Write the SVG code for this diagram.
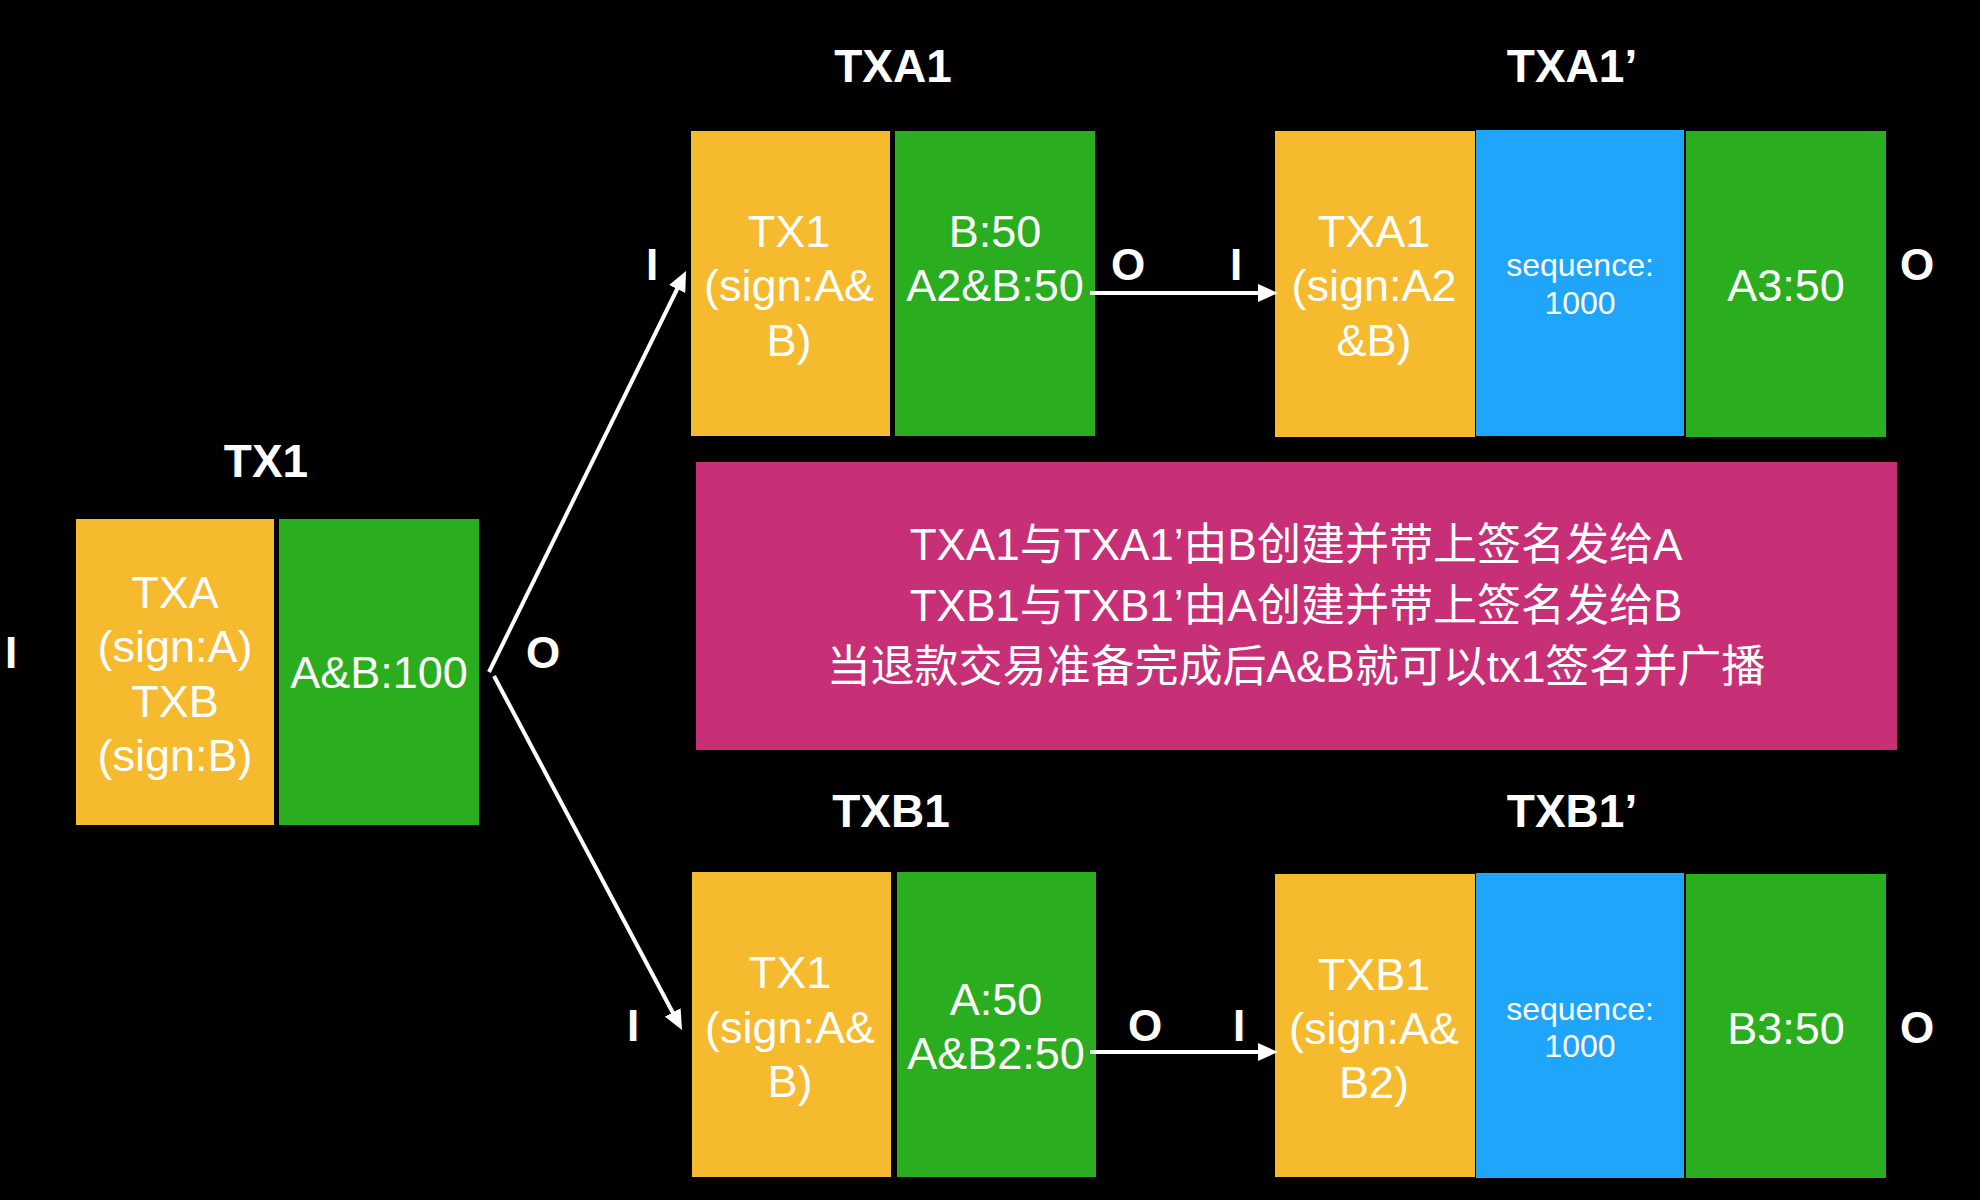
<svg xmlns="http://www.w3.org/2000/svg" width="1980" height="1200" viewBox="0 0 1980 1200">
<defs>
<style>
.bg{fill:#000}
.y{fill:#F6BA2E}
.g{fill:#2BAD20}
.b{fill:#1FA6FB}
.m{fill:#C72F77}
text{font-family:"Liberation Sans","Noto Sans CJK SC",Arial,sans-serif;fill:#fff;text-anchor:middle}
.t{font-size:45px}
.s{font-size:32px}
.h{font-size:46px;font-weight:bold}
.io{font-size:44px;font-weight:bold}
.c{font-size:44px}
.conn{stroke:#fff;stroke-width:4;fill:none}
</style>
<marker id="ah" markerUnits="userSpaceOnUse" markerWidth="20" markerHeight="18" viewBox="0 0 20 18" refX="5" refY="9" orient="auto">
<path d="M0,0 L20,9 L0,18 z" fill="#fff"/>
</marker>
</defs>
<rect class="bg" x="0" y="0" width="1980" height="1200"/>

<g id="tx1">
<text class="h" x="266" y="477">TX1</text>
<rect class="y" x="76" y="519" width="198" height="306"/>
<rect class="g" x="279" y="519" width="200" height="306"/>
<text class="t" x="175" y="608">TXA</text>
<text class="t" x="175" y="662">(sign:A)</text>
<text class="t" x="175" y="717">TXB</text>
<text class="t" x="175" y="771">(sign:B)</text>
<text class="t" x="379" y="688">A&amp;B:100</text>
<text class="io" x="11" y="668">I</text>
<text class="io" x="543" y="668">O</text>
</g>

<g id="txa1">
<text class="h" x="893" y="82">TXA1</text>
<rect class="y" x="691" y="131" width="199" height="305"/>
<rect class="g" x="895" y="131" width="200" height="305"/>
<text class="t" x="789" y="247">TX1</text>
<text class="t" x="789" y="301">(sign:A&amp;</text>
<text class="t" x="789" y="356">B)</text>
<text class="t" x="995" y="247">B:50</text>
<text class="t" x="995" y="301">A2&amp;B:50</text>
<text class="io" x="652" y="280">I</text>
<text class="io" x="1128" y="280">O</text>
</g>

<g id="txa1p">
<text class="h" x="1572" y="82">TXA1’</text>
<rect class="y" x="1275" y="131" width="200" height="306"/>
<rect class="b" x="1476" y="130" width="208" height="306"/>
<rect class="g" x="1686" y="131" width="200" height="306"/>
<text class="t" x="1374" y="247">TXA1</text>
<text class="t" x="1374" y="301">(sign:A2</text>
<text class="t" x="1374" y="356">&amp;B)</text>
<text class="s" x="1580" y="276">sequence:</text>
<text class="s" x="1580" y="314">1000</text>
<text class="t" x="1786" y="301">A3:50</text>
<text class="io" x="1236" y="280">I</text>
<text class="io" x="1917" y="280">O</text>
</g>

<g id="note">
<rect class="m" x="696" y="462" width="1201" height="288"/>
<text class="c" x="1296" y="560">TXA1与TXA1’由B创建并带上签名发给A</text>
<text class="c" x="1296" y="621">TXB1与TXB1’由A创建并带上签名发给B</text>
<text class="c" x="1296" y="682">当退款交易准备完成后A&amp;B就可以tx1签名并广播</text>
</g>

<g id="txb1">
<text class="h" x="891" y="827">TXB1</text>
<rect class="y" x="692" y="872" width="199" height="305"/>
<rect class="g" x="897" y="872" width="199" height="305"/>
<text class="t" x="790" y="988">TX1</text>
<text class="t" x="790" y="1043">(sign:A&amp;</text>
<text class="t" x="790" y="1097">B)</text>
<text class="t" x="996" y="1015">A:50</text>
<text class="t" x="996" y="1069">A&amp;B2:50</text>
<text class="io" x="633" y="1041">I</text>
<text class="io" x="1145" y="1041">O</text>
</g>

<g id="txb1p">
<text class="h" x="1572" y="827">TXB1’</text>
<rect class="y" x="1275" y="874" width="200" height="303"/>
<rect class="b" x="1476" y="873" width="208" height="305"/>
<rect class="g" x="1686" y="874" width="200" height="304"/>
<text class="t" x="1374" y="990">TXB1</text>
<text class="t" x="1374" y="1044">(sign:A&amp;</text>
<text class="t" x="1374" y="1098">B2)</text>
<text class="s" x="1580" y="1020">sequence:</text>
<text class="s" x="1580" y="1057">1000</text>
<text class="t" x="1786" y="1044">B3:50</text>
<text class="io" x="1239" y="1041">I</text>
<text class="io" x="1917" y="1043">O</text>
</g>

<g id="connectors">
<line class="conn" x1="489" y1="672" x2="679.4" y2="284.5" marker-end="url(#ah)"/>
<line class="conn" x1="494" y1="676" x2="675" y2="1016.8" marker-end="url(#ah)"/>
<line class="conn" x1="1090" y1="293" x2="1263" y2="293" marker-end="url(#ah)"/>
<line class="conn" x1="1090" y1="1052" x2="1263" y2="1052" marker-end="url(#ah)"/>
</g>
</svg>
